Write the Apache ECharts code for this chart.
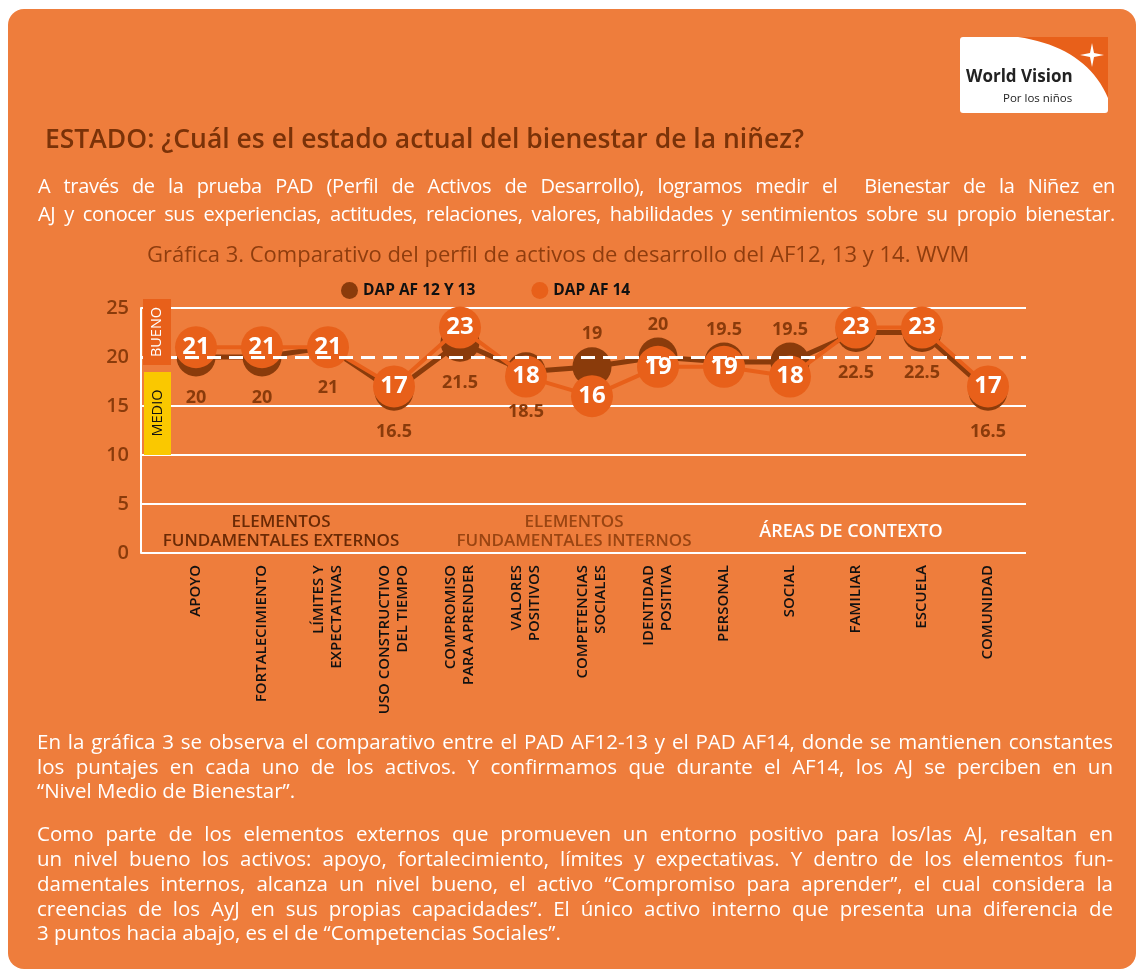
<!DOCTYPE html>
<html>
<head>
<meta charset="utf-8">
<script src="https://cdn.jsdelivr.net/npm/echarts@6/dist/echarts.min.js"></script>
<style>
  html, body { margin: 0; padding: 0; background: #ffffff; }
  body { width: 1147px; height: 975px; position: relative; overflow: hidden; font-family: 'Open Sans', 'Noto Sans', sans-serif; }
  #card { position: absolute; left: 8px; top: 9px; width: 1128px; height: 960px; border-radius: 16px; background: #EE7D3C; }
  #chart { position: absolute; left: 0; top: 0; width: 1147px; height: 975px; }
  .h { position: absolute; left: 45px; top: 120px; font-size: 26.5px; font-weight: 600; color: #7A3208; white-space: nowrap; }
  .ln { position: absolute; color: #ffffff; text-align: justify; text-align-last: justify; }
  .ln.last { text-align: left; text-align-last: left; }
  .top { left: 38px; width: 1077px; font-size: 20px; line-height: 28px; letter-spacing: -0.35px; }
  .bot { left: 37px; width: 1076px; font-size: 20.5px; line-height: 26px; }
</style>
</head>
<body>
<div id="card"></div>
<div id="chart"></div>
<div class="h">ESTADO: ¿Cuál es el estado actual del bienestar de la niñez?</div>
<div class="ln top" style="top:172px">A través de la prueba PAD (Perfil de Activos de Desarrollo), logramos medir el&nbsp; Bienestar de la Niñez en</div>
<div class="ln top" style="top:200px">AJ y conocer sus experiencias, actitudes, relaciones, valores, habilidades y sentimientos sobre su propio bienestar.</div>

<div class="ln bot" style="top:728px">En la gráfica 3 se observa el comparativo entre el PAD AF12-13 y el PAD AF14, donde se mantienen constantes</div>
<div class="ln bot" style="top:753px">los puntajes en cada uno de los activos. Y confirmamos que durante el AF14, los AJ se perciben en un</div>
<div class="ln bot last" style="top:777px">“Nivel Medio de Bienestar”.</div>

<div class="ln bot" style="top:820px">Como parte de los elementos externos que promueven un entorno positivo para los/las AJ, resaltan en</div>
<div class="ln bot" style="top:845px">un nivel bueno los activos: apoyo, fortalecimiento, límites y expectativas. Y dentro de los elementos fun-</div>
<div class="ln bot" style="top:870px">damentales internos, alcanza un nivel bueno, el activo “Compromiso para aprender”, el cual considera la</div>
<div class="ln bot" style="top:895px">creencias de los AyJ en sus propias capacidades”. El único activo interno que presenta una diferencia de</div>
<div class="ln bot last" style="top:919px">3 puntos hacia abajo, es el de “Competencias Sociales”.</div>

<script>
// ---- data ----
const categories = [
  'APOYO', 'FORTALECIMIENTO', 'LÍMITES Y\nEXPECTATIVAS', 'USO CONSTRUCTIVO\nDEL TIEMPO',
  'COMPROMISO\nPARA APRENDER', 'VALORES\nPOSITIVOS', 'COMPETENCIAS\nSOCIALES', 'IDENTIDAD\nPOSITIVA',
  'PERSONAL', 'SOCIAL', 'FAMILIAR', 'ESCUELA', 'COMUNIDAD'
];
const seriesNames = ['DAP AF 12 Y 13', 'DAP AF 14'];
const dap1213 = [20, 20, 21, 16.5, 21.5, 18.5, 19, 20, 19.5, 19.5, 22.5, 22.5, 16.5];
const dap14 = [21, 21, 21, 17, 23, 18, 16, 19, 19, 18, 23, 23, 17];
const yTicks = [0, 5, 10, 15, 20, 25];
const thresholdGood = 20;
const groupLabels = ['ELEMENTOS\nFUNDAMENTALES EXTERNOS', 'ELEMENTOS\nFUNDAMENTALES INTERNOS', 'ÁREAS DE CONTEXTO'];
const levelLabels = ['BUENO', 'MEDIO'];
const chartTitle = 'Gráfica 3. Comparativo del perfil de activos de desarrollo del AF12, 13 y 14. WVM';

// ---- styles ----
const DARK = '#8A3B0B';
const ORANGE = '#E8601A';
const FONT = "'Open Sans', 'Noto Sans', sans-serif";

const chart = echarts.init(document.getElementById('chart'), null, { renderer: 'canvas' });

const darkData = dap1213.map((v, i) => {
  const above = dap14[i] < v && v >= 19;
  return { value: v, label: { position: above ? 'top' : 'bottom', distance: above ? 4 : 12 } };
});

// logo curved corner shape (quadratic curve sampled into a polygon)
const logoCorner = [[1018, 37], [1108, 37], [1108, 98]];
for (let k = 1; k < 20; k++) {
  const t = k / 20;
  const p0 = [1108, 98], c = [1086, 47], p1 = [1018, 37];
  logoCorner.push([
    (1 - t) * (1 - t) * p0[0] + 2 * (1 - t) * t * c[0] + t * t * p1[0],
    (1 - t) * (1 - t) * p0[1] + 2 * (1 - t) * t * c[1] + t * t * p1[1]
  ]);
}
const star = [[1092, 43], [1094, 53], [1104, 55], [1094, 57], [1092, 67], [1090, 57], [1080, 55], [1090, 53]];

const gridTop = 308, gridH = 245;

const option = {
  backgroundColor: 'transparent',
  animation: false,
  textStyle: { fontFamily: FONT },
  title: {
    text: chartTitle,
    left: 142, top: 240,
    textStyle: { fontSize: 22, fontWeight: 'normal', color: '#8F3D0E', fontFamily: FONT }
  },
  legend: {
    data: seriesNames,
    left: 336, top: 277,
    icon: 'circle', itemWidth: 17, itemHeight: 17, itemGap: 56, itemStyle: { borderWidth: 0 },
    textStyle: { fontSize: 15.5, fontWeight: 'bold', color: '#111', fontFamily: FONT }
  },
  grid: [
    { left: 141, top: gridTop, width: 885, height: gridH },
    { left: 196, top: gridTop, right: 159, height: gridH }
  ],
  xAxis: [
    { gridIndex: 0, type: 'value', min: 0, max: 1, show: false },
    {
      gridIndex: 1, type: 'category', data: categories, boundaryGap: false,
      axisLine: { show: false }, axisTick: { show: false },
      axisLabel: { rotate: 90, margin: 12, color: '#111', fontSize: 15, fontWeight: 600, lineHeight: 18, fontFamily: FONT, interval: 0 }
    }
  ],
  yAxis: [
    {
      gridIndex: 0, type: 'value', min: yTicks[0], max: yTicks[yTicks.length - 1], interval: 5,
      axisLine: { show: true, lineStyle: { color: '#ffffff', width: 2 } },
      axisTick: { show: false },
      axisLabel: { margin: 12, color: DARK, fontSize: 20, fontWeight: 600, fontFamily: FONT },
      splitLine: { show: true, lineStyle: { width: 2, color: yTicks.map(t => t === thresholdGood ? 'rgba(0,0,0,0)' : '#ffffff') } }
    },
    { gridIndex: 1, type: 'value', min: yTicks[0], max: yTicks[yTicks.length - 1], show: false }
  ],
  series: [
    {
      type: 'line', xAxisIndex: 0, yAxisIndex: 0, data: [[0, null]], silent: true, symbol: 'none',
      markLine: {
        symbol: 'none', silent: true, label: { show: false },
        lineStyle: { color: '#ffffff', type: [14, 8], width: 3 },
        data: [{ yAxis: thresholdGood }]
      }
    },
    {
      name: seriesNames[0], type: 'line', xAxisIndex: 1, yAxisIndex: 1, z: 3,
      data: darkData,
      symbol: 'circle', symbolSize: 39,
      itemStyle: { color: DARK },
      lineStyle: { color: DARK, width: 5 },
      label: { show: true, color: DARK, fontSize: 18, fontWeight: 'bold', fontFamily: FONT }
    },
    {
      name: seriesNames[1], type: 'line', xAxisIndex: 1, yAxisIndex: 1, z: 4,
      data: dap14,
      symbol: 'circle', symbolSize: 42,
      itemStyle: { color: ORANGE },
      lineStyle: { color: ORANGE, width: 4 },
      label: { show: true, position: 'inside', color: '#ffffff', fontSize: 24, fontWeight: 'bold', fontFamily: FONT }
    }
  ],
  graphic: [
    { type: 'rect', z: 10, shape: { x: 143, y: 299, width: 28, height: 66 }, style: { fill: ORANGE } },
    { type: 'text', z: 11, x: 157, y: 332, rotation: Math.PI / 2,
      style: { text: levelLabels[0], fill: '#ffffff', fontSize: 14.5, fontFamily: FONT, align: 'center', verticalAlign: 'middle' } },
    { type: 'rect', z: 10, shape: { x: 144, y: 372, width: 27, height: 83 }, style: { fill: '#FAC800' } },
    { type: 'text', z: 11, x: 157.5, y: 413, rotation: Math.PI / 2,
      style: { text: levelLabels[1], fill: '#111111', fontSize: 14.5, fontFamily: FONT, align: 'center', verticalAlign: 'middle' } },
    { type: 'text', z: 10, x: 281, y: 532,
      style: { text: groupLabels[0], fill: '#6B2A05', fontSize: 17, fontWeight: 600, lineHeight: 19, fontFamily: FONT, align: 'center', verticalAlign: 'middle' } },
    { type: 'text', z: 10, x: 574, y: 532,
      style: { text: groupLabels[1], fill: '#9A4512', fontSize: 17, fontWeight: 600, lineHeight: 19, fontFamily: FONT, align: 'center', verticalAlign: 'middle' } },
    { type: 'text', z: 10, x: 851, y: 532,
      style: { text: groupLabels[2], fill: '#ffffff', fontSize: 18, fontWeight: 600, fontFamily: FONT, align: 'center', verticalAlign: 'middle' } },
    { type: 'rect', z: 10, shape: { x: 960, y: 37, width: 148, height: 76, r: 3 }, style: { fill: '#ffffff' } },
    { type: 'polygon', z: 11, shape: { points: logoCorner }, style: { fill: ORANGE } },
    { type: 'polygon', z: 12, shape: { points: star }, style: { fill: '#ffffff' } },
    { type: 'text', z: 12, x: 966, y: 77,
      style: { text: 'World Vision', fill: '#222222', fontSize: 17, fontWeight: 'bold', fontFamily: FONT, align: 'left', verticalAlign: 'middle' } },
    { type: 'text', z: 12, x: 1003, y: 99,
      style: { text: 'Por los niños', fill: '#222222', fontSize: 11.5, fontFamily: FONT, align: 'left', verticalAlign: 'middle' } }
  ]
};
chart.setOption(option);
</script>
</body>
</html>
